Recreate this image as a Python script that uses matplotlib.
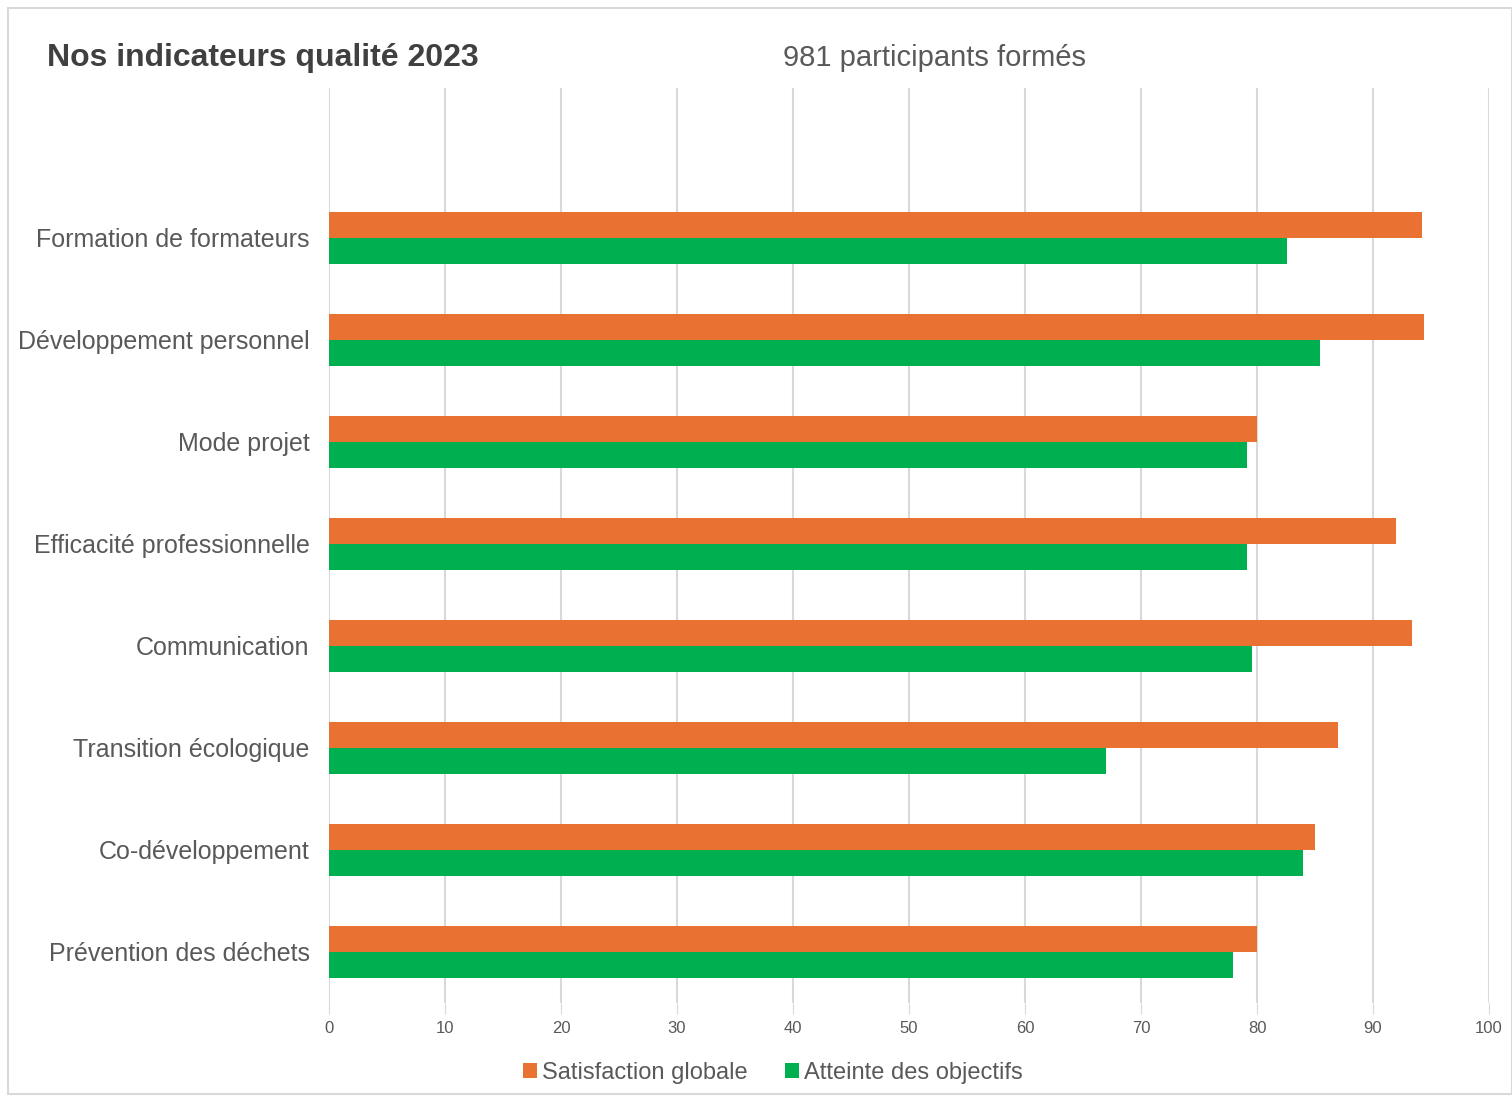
import matplotlib.pyplot as plt
from matplotlib.patches import Rectangle
import numpy as np

plt.rcParams['font.family'] = ['Liberation Sans', 'DejaVu Sans']

categories = ["Prévention des déchets", "Co-développement", "Transition écologique",
              "Communication", "Efficacité professionnelle", "Mode projet",
              "Développement personnel", "Formation de formateurs"]
satisfaction = [80.0, 85.0, 87.0, 93.4, 92.0, 80.0, 94.4, 94.2]
objectifs = [77.9, 84.0, 67.0, 79.6, 79.1, 79.1, 85.4, 82.6]
series_names = ["Satisfaction globale", "Atteinte des objectifs"]
xticks = list(range(0, 101, 10))

orange = "#E97132"
green = "#00B050"
grey_text = "#595959"
grid_col = "#D9D9D9"

fig = plt.figure(figsize=(15.12, 10.97), dpi=100)
ax = fig.add_axes([0.2176, 0.0857, 0.7672, 0.8341])

y = np.arange(len(categories))
h = 0.255
ax.barh(y + h / 2, satisfaction, height=h, color=orange, label=series_names[0], zorder=3)
ax.barh(y - h / 2, objectifs, height=h, color=green, label=series_names[1], zorder=3)

ax.set_xlim(0, 100)
ax.set_ylim(-0.5, 8.47)
ax.set_xticks(xticks)
ax.set_yticks(y)
ax.set_yticklabels(categories, fontsize=18, color=grey_text)
ax.tick_params(axis='y', length=0, pad=14)
ax.tick_params(axis='x', length=8, color=grid_col, labelsize=12, labelcolor=grey_text, pad=5)
ax.xaxis.grid(True, color=grid_col, linewidth=1.5, zorder=0)
for s in ax.spines.values():
    s.set_visible(False)

fig.text(0.031, 0.947, "Nos indicateurs qualité 2023", fontsize=23, fontweight='bold',
         color="#404040", va='center')
fig.text(0.618, 0.947, "981 participants formés", fontsize=21, color=grey_text,
         va='center', ha='center')

leg = fig.legend(loc='center', bbox_to_anchor=(0.511, 0.022), ncol=2, frameon=False,
                 fontsize=17, handlelength=0.6, handleheight=0.6, handletextpad=0.2,
                 columnspacing=1.6, labelcolor=grey_text)

fig.patches.append(Rectangle((0.005, 0.003), 0.995, 0.99, transform=fig.transFigure,
                             fill=False, edgecolor="#D9D9D9", linewidth=1.5))

fig.savefig("out.png", dpi=100)
